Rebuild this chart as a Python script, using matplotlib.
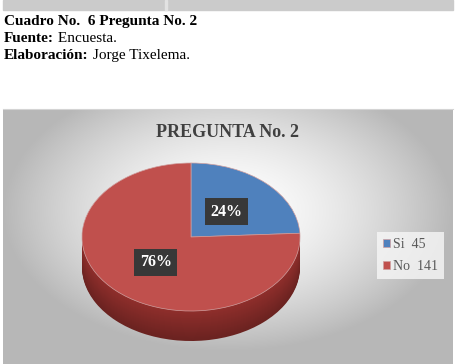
import numpy as np
import matplotlib.pyplot as plt
from matplotlib.patches import Rectangle

# data
categorias = ['Si', 'No']
valores = [45, 141]
colores = ['#4F81BD', '#C0504D']
colores_lado = ['#2F5687', '#8E2E2B']
etiquetas = ['Si  45', 'No  141']

W, H = 458, 364
fig = plt.figure(figsize=(W / 100, H / 100), dpi=100)
fig.patch.set_facecolor('white')
serif = ['Liberation Serif', 'DejaVu Serif']


def px(x, y, w, h):
    return [x / W, 1 - (y + h) / H, w / W, h / H]


# gray bar on top of page
fig.patches.append(Rectangle((3 / W, 1 - 10 / H), 450 / W, 10 / H,
                             transform=fig.transFigure, color='#cbcbcb', zorder=0))
fig.patches.append(Rectangle((165 / W, 1 - 10 / H), 1.5 / W, 10 / H,
                             transform=fig.transFigure, color='#e2e2e2', zorder=1))

# header texts
over = fig.add_axes([0, 0, 1, 1])
over.set_axis_off()
over.set_zorder(5)
over.patch.set_alpha(0)
t0 = over.text(4 / W, 1 - 28 / H, 'Cuadro No.  6 Pregunta No. 2', fontsize=11,
               fontweight='bold', family=serif, va='bottom', ha='left')
t1 = over.text(4 / W, 1 - 45 / H, 'Fuente:', fontsize=11, fontweight='bold',
               family=serif, va='bottom', ha='left')
over.annotate(' Encuesta.', xy=(1, 0), xycoords=t1, fontsize=11, family=serif,
              va='bottom', ha='left')
t2 = over.text(4 / W, 1 - 62 / H, 'Elaboración:', fontsize=11, fontweight='bold',
               family=serif, va='bottom', ha='left')
over.annotate(' Jorge Tixelema.', xy=(1, 0), xycoords=t2, fontsize=11, family=serif,
              va='bottom', ha='left')

# chart background with radial gradient
bg = fig.add_axes(px(3, 109, 450, 255))
gx, gy = np.meshgrid(np.linspace(-1, 1, 300), np.linspace(-1, 1, 200))
r = np.sqrt((gx / 1.0) ** 2 + ((gy + 0.2) / 1.1) ** 2)
g = np.clip(1.0 - 0.28 * r ** 1.6, 0.72, 1.0)
bg.imshow(np.dstack([g, g, g]), aspect='auto', extent=[0, 1, 0, 1])
bg.set_xticks([])
bg.set_yticks([])
for s in bg.spines.values():
    s.set_visible(False)
bg.spines['top'].set_visible(True)
bg.spines['top'].set_color('#d4d4d4')

fig.text(228 / W, 1 - 132 / H, 'PREGUNTA No. 2', fontsize=13, fontweight='bold',
         family=serif, color='#404040', ha='center', va='center', zorder=6)

# pie axes: top face 218 x 148 px, side depth 30 px
b = 74.0
d = 30 / b
ax = fig.add_axes(px(82, 163, 218, 2 * b + 30))
ax.set_zorder(3)
ax.patch.set_alpha(0)

n = 30
for i, t in enumerate(np.linspace(d, 0.02, n)):
    f = 0.75 + 0.25 * i / (n - 1)
    cl = [tuple(min(1, c * f) for c in plt.matplotlib.colors.to_rgb(col)) for col in colores_lado]
    ax.pie(valores, colors=cl, startangle=90, counterclock=False,
           center=(0, -t), wedgeprops=dict(linewidth=0))

wedges, textos, autotextos = ax.pie(
    valores, colors=colores, startangle=90, counterclock=False,
    autopct='%.0f%%', pctdistance=0.47,
    wedgeprops=dict(linewidth=0.5, edgecolor='#d0a0a0'),
    textprops=dict(color='white', fontsize=11.5, fontweight='bold', family=serif))
for at in autotextos:
    at.set_bbox(dict(boxstyle='square,pad=0.35', facecolor='#383838',
                     edgecolor='none'))
ax.set_aspect('auto')
ax.set_xlim(-1, 1)
ax.set_ylim(-1 - d, 1)

leg = fig.legend(wedges, etiquetas, loc='upper left',
                 bbox_to_anchor=(377 / W, 1 - 232 / H),
                 prop=dict(family=serif, size=10), labelcolor='#595959',
                 handlelength=0.5, handleheight=0.5, handletextpad=0.2,
                 labelspacing=0.6, borderpad=0.45, borderaxespad=0,
                 frameon=True, fancybox=False)
leg.get_frame().set_facecolor('#f7f7f7')
leg.get_frame().set_edgecolor('none')
leg.get_frame().set_alpha(0.8)
leg.set_zorder(7)

fig.savefig('out.png', dpi=100)
